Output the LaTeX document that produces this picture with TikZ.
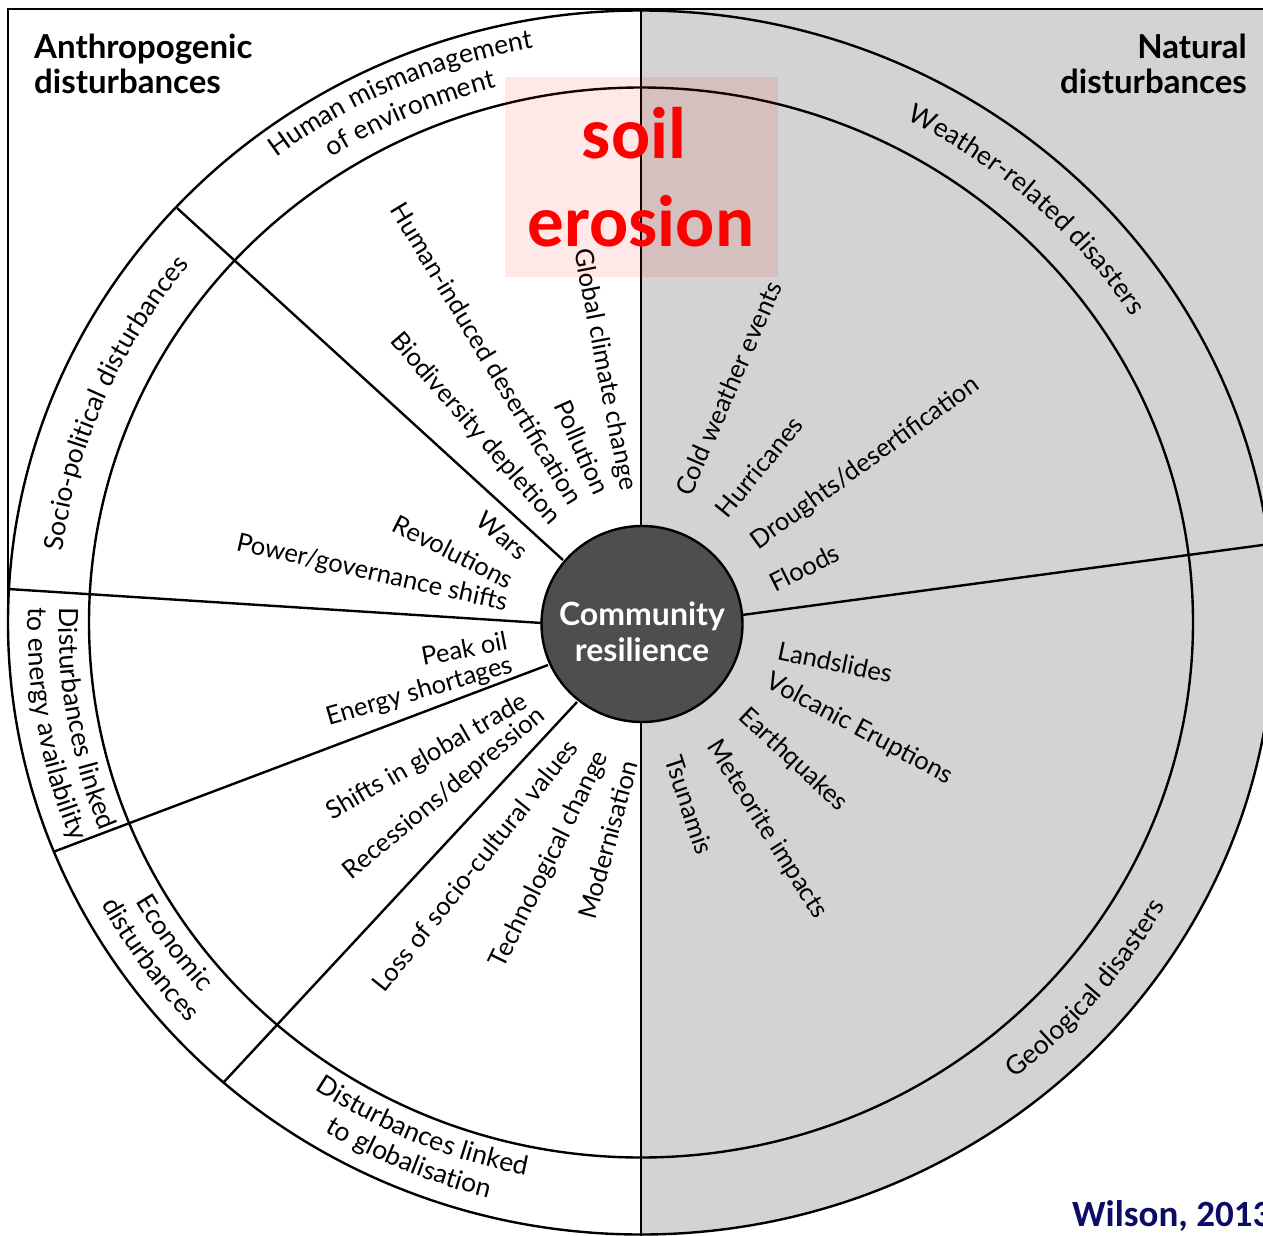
\documentclass[tikz,border=0pt]{standalone}
\usepackage{fontspec}
\setmainfont{Lato}
\newfontfamily\calib{Carlito}
\usetikzlibrary{decorations.text,calc}
\definecolor{natgray}{RGB}{211,211,211}
\definecolor{coregray}{RGB}{78,78,78}
\definecolor{navyblue}{RGB}{12,12,100}
\newcommand\ringfont{\fontsize{26.5}{30}\selectfont}
\newcommand\lblfont{\fontsize{25.5}{30}\selectfont}
\newcommand\ringtxt[4]{\path[decorate,decoration={text along path,text align=center,text={|\ringfont|#4}}] ($(C)+(#1:{1.032*#3} and {#3})$) arc[start angle=#1,end angle=#2,x radius={1.032*#3},y radius={#3}];}
\begin{document}
\begin{tikzpicture}[x=1pt,y=1pt,line width=2.4pt,
  lbl/.style={font=\lblfont,inner sep=0pt},
  title/.style={font=\fontsize{33}{35}\selectfont\bfseries,inner sep=0pt,align=left}]
\useasboundingbox (0,0) rectangle (1263,-1236);
\coordinate (C) at (641,-622.5);
% gray natural half
\fill[natgray] (641,-9) rectangle (1280,-622.5);
\fill[natgray] ($(C)+(90:633 and 612)$) arc[start angle=90,end angle=-90,x radius=633,y radius=612] -- cycle;
% frame
\coordinate (f1) at (8,-622.5);
\coordinate (f2) at (8,-9);
\coordinate (f3) at (1280,-9);
\draw (f1) -- (f2) -- (f3);
\coordinate (vt) at (641,-9);
\coordinate (vb) at (641,-1245);
\draw (vt) -- (vb);
% rings
\draw (C) ellipse [x radius=633, y radius=612];
\draw (C) ellipse [x radius=552, y radius=535];
% radial lines
\coordinate (a1) at (177,-208); \coordinate (b1) at (563,-560);
\coordinate (a2) at (8,-589);   \coordinate (b2) at (542,-623);
\coordinate (a3) at (53,-852);  \coordinate (b3) at (548,-665);
\coordinate (a4) at (223,-1083);\coordinate (b4) at (577,-702);
\coordinate (a5) at (1270,-544);\coordinate (b5) at (742,-615);
\draw (a1) -- (b1); \draw (a2) -- (b2); \draw (a3) -- (b3); \draw (a4) -- (b4); \draw (a5) -- (b5);
% core
\draw[fill=coregray] (642,-624) ellipse [x radius=100.5, y radius=98];
\node[font=\fontsize{32}{36}\selectfont\bfseries,text=white,align=center,inner sep=0pt] (core) at (642,-632) {Community\\resilience};
% titles
\node[title,anchor=north west] (anth) at (33,-33) {Anthropogenic\\disturbances};
\node[title,anchor=north east,align=right] (nat) at (1248,-33) {Natural\\disturbances};
% ring labels
\ringtxt{154}{74}{584}{Human mismanagement}
\ringtxt{154}{74}{553}{of environment}
\ringtxt{88}{7}{565}{Weather-related disasters}
\ringtxt{200}{114}{565}{Socio-political disturbances}
\ringtxt{150}{230}{564}{Disturbances linked}
\ringtxt{150}{230}{594}{to energy availability}
\ringtxt{175}{255}{564}{Economic}
\ringtxt{175}{255}{594}{disturbances}
\ringtxt{207}{287}{564}{Disturbances linked}
\ringtxt{207}{287}{594}{to globalisation}
\ringtxt{280}{360}{582}{Geological disasters}
% inner labels, anthropogenic
\node[lbl,anchor=east,rotate=-59] (l1) at (577,-503) {Human-induced desertification};
\node[lbl,anchor=east,rotate=-49] (l2) at (556,-522) {Biodiversity depletion};
\node[lbl,anchor=east,rotate=-66] (l3) at (603,-494) {Pollution};
\node[lbl,anchor=east,rotate=-79] (l4) at (628,-491) {Global climate change};
\node[lbl,anchor=east,rotate=-40] (l5) at (526,-555) {Wars};
\node[lbl,anchor=east,rotate=-27] (l6) at (513,-582) {Revolutions};
\node[lbl,anchor=east,rotate=-12.6] (l7) at (508,-604) {Power/governance shifts};
\node[lbl,anchor=east,rotate=11] (l8) at (508,-640) {Peak oil};
\node[lbl,anchor=east,rotate=16] (l9) at (513,-665) {Energy shortages};
\node[lbl,anchor=east,rotate=30] (l10) at (527,-700) {Shifts in global trade};
\node[lbl,anchor=east,rotate=39.7] (l11) at (543,-712) {Recessions/depression};
\node[lbl,anchor=east,rotate=51.5] (l12) at (573,-742) {Loss of socio-cultural values};
\node[lbl,anchor=east,rotate=63.8] (l13) at (603,-752) {Technological change};
\node[lbl,anchor=east,rotate=74.6] (l14) at (630,-760) {Modernisation};
% inner labels, natural
\node[lbl,anchor=west,rotate=66.5] (r1) at (682,-495) {Cold weather events};
\node[lbl,anchor=west,rotate=50.8] (r2) at (720,-515) {Hurricanes};
\node[lbl,anchor=west,rotate=36] (r3) at (753,-545) {Droughts/desertification};
\node[lbl,anchor=west,rotate=26.6] (r4) at (770,-585) {Floods};
\node[lbl,anchor=west,rotate=-11.8] (r5) at (777,-650) {Landslides};
\node[lbl,anchor=west,rotate=-28] (r6) at (767,-680) {Volcanic Eruptions};
\node[lbl,anchor=west,rotate=-43] (r7) at (742,-712) {Earthquakes};
\node[lbl,anchor=west,rotate=-58] (r8) at (712,-742) {Meteorite impacts};
\node[lbl,anchor=west,rotate=-71.7] (r9) at (673,-755) {Tsunamis};
% overlay
\fill[red,opacity=0.09] (505,-77) rectangle (778,-277);
\node[font=\calib\fontsize{73}{80}\selectfont\bfseries,text=red,inner sep=0pt,anchor=base] (soil) at (634,-158) {soil};
\node[font=\calib\fontsize{73}{80}\selectfont\bfseries,text=red,inner sep=0pt,anchor=base] (eros) at (641,-246) {erosion};
\node[font=\calib\fontsize{37}{40}\selectfont\bfseries,text=navyblue,inner sep=0pt,anchor=base west] (wil) at (1071,-1226) {Wilson, 2013};
\end{tikzpicture}
\end{document}
